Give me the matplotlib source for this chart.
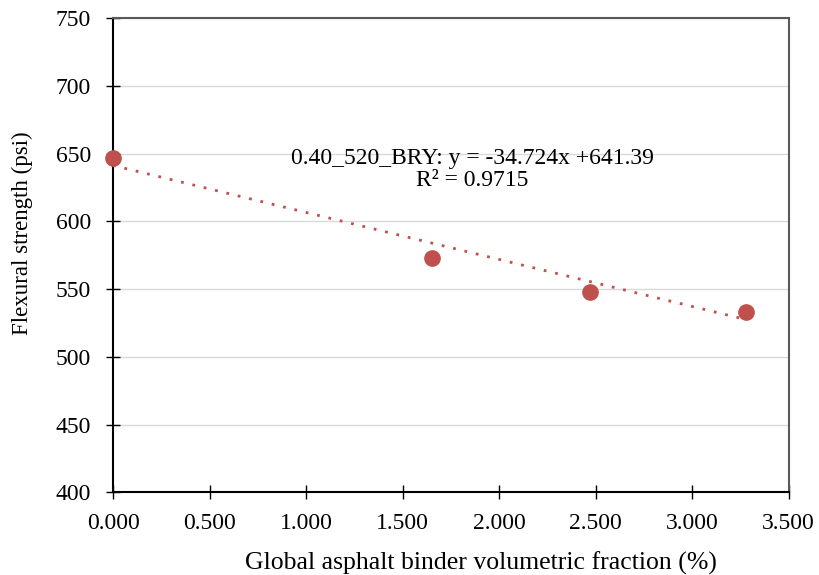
import matplotlib
matplotlib.use("Agg")
import matplotlib.pyplot as plt
import numpy as np

plt.rcParams['font.family'] = ['Liberation Serif', 'DejaVu Serif']

x_vals = [0.0, 1.65, 2.47, 3.28]
y_vals = [647, 573, 548, 533]
slope = -34.724
intercept = 641.39
r2 = 0.9715
series_name = "0.40_520_BRY"
xticks = [0.0, 0.5, 1.0, 1.5, 2.0, 2.5, 3.0, 3.5]
yticks = [400, 450, 500, 550, 600, 650, 700, 750]

color = '#C0504D'

fig = plt.figure(figsize=(8.19, 5.75), dpi=100)
ax = fig.add_axes([0.138, 0.144, 0.825, 0.824])

ax.set_xlim(0, 3.5)
ax.set_ylim(400, 750)
ax.set_xticks(xticks)
ax.set_xticklabels([f"{v:.3f}" for v in xticks])
ax.set_yticks(yticks)
ax.yaxis.grid(True, color='#d9d9d9', linewidth=1)
ax.set_axisbelow(True)

tx = np.array([min(x_vals), max(x_vals)])
ax.plot(tx, slope * tx + intercept, color=color, linestyle=(0, (1, 3.2)), linewidth=2, zorder=3)
ax.plot(x_vals, y_vals, 'o', color=color, markersize=11, zorder=4, clip_on=False)

ax.text(1.86, 638.5, f"{series_name}: y = {slope}x +{intercept}\nR² = {r2}",
        ha='center', va='center', fontsize=17, linespacing=1.1)

for s in ['left', 'bottom']:
    ax.spines[s].set_color('black')
    ax.spines[s].set_linewidth(1.5)
for s in ['top', 'right']:
    ax.spines[s].set_color('#595959')
    ax.spines[s].set_linewidth(1.5)

ax.tick_params(axis='both', direction='inout', length=10, width=1, labelsize=17)
ax.tick_params(axis='x', pad=10)
ax.tick_params(axis='y', pad=11)

fig.text(481 / 819, 1 - 563 / 575, "Global asphalt binder volumetric fraction (%)",
         ha='center', va='center', fontsize=18.5)
fig.text(22 / 819, 1 - 233 / 575, "Flexural strength (psi)",
         ha='center', va='center', rotation=90, fontsize=16.5)

fig.savefig("out.png", dpi=100)
